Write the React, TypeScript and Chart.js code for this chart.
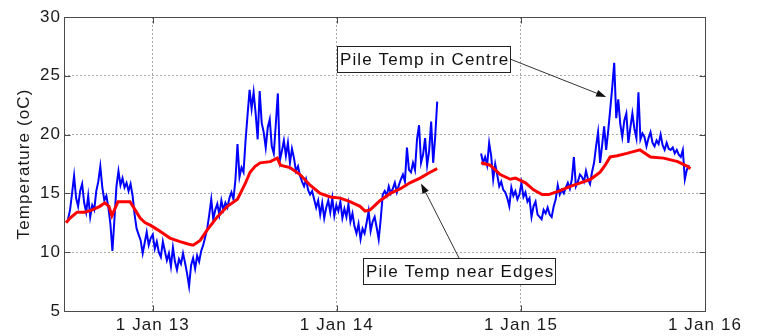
import { useEffect, useRef } from 'react';
import { Chart, registerables } from 'chart.js';

Chart.register(...registerables);

// Day numbers are counted from 1 Jan 2013.
// Centre sensor: one logged reading every SAMPLE_STEP days.
const SAMPLE_STEP = 4;

const centreStartA = -168;
const centreTempsA = [
  12.8, 13.6, 15.0, 16.5, 14.6, 13.9, 15.2, 15.8, 14.2, 13.4,
  14.8, 13.0, 14.0, 13.6, 15.2, 16.0, 17.3, 15.5, 14.4, 14.8,
  13.8, 12.4, 10.1, 12.8, 15.6, 16.9, 15.7, 16.3, 15.5, 15.9,
  15.2, 15.8, 14.8, 13.2, 12.0, 11.5, 11.0, 9.9, 10.8, 11.7,
  10.6, 11.2, 11.5, 10.3, 10.9, 10.0, 9.6, 10.9, 10.1, 9.3,
  9.9, 8.8, 10.4, 9.2, 8.5, 9.4, 9.0, 9.9, 9.1, 8.2,
  7.1, 8.9, 9.5, 8.6, 9.7, 9.2, 10.1, 10.6, 11.3, 12.0,
  13.2, 14.5, 12.8, 13.6, 14.1, 13.2, 14.4, 13.6, 14.2, 13.8,
  14.6, 15.1, 14.5, 16.2, 19.2, 16.4, 17.2, 16.8, 19.5, 21.7,
  23.8, 22.2, 23.6, 21.8, 19.6, 23.7, 21.0, 20.2, 18.9, 20.6,
  21.3, 19.0, 18.4, 20.9, 23.5, 17.8, 18.6, 19.5, 18.2, 19.3,
  17.6, 18.8, 18.0, 16.9, 17.3, 16.5, 16.0, 15.6, 16.2, 15.3,
  14.9, 15.2, 14.5, 13.8, 14.4, 13.2, 14.2, 12.9, 13.8, 14.4,
  13.4, 14.6, 13.1, 14.0, 13.5, 14.3, 12.9, 13.7, 13.0, 14.1,
  12.6, 13.3, 12.2, 11.6, 12.4, 11.1, 12.0, 11.6, 12.5, 13.5,
  11.8, 12.6, 13.0, 12.1, 11.1, 12.8, 14.9, 15.2, 14.8, 15.6,
  15.0, 15.4, 15.9, 15.1, 15.7, 16.2, 16.6, 16.0, 18.9, 17.0,
  16.8, 17.6, 17.0, 19.6, 20.8, 17.6, 18.3, 19.7, 17.4, 18.6,
  21.1, 17.6, 19.8, 22.8,
];

const centreStartB = 651;
const centreTempsB = [
  18.4, 17.6, 18.1, 17.4, 19.3, 18.2, 16.2, 17.5, 16.6, 15.6,
  16.0, 15.3, 15.1, 14.6, 13.9, 15.5, 14.8, 15.2, 14.5, 14.9,
  15.9, 14.7, 15.1, 14.3, 14.6, 13.0, 13.9, 14.3, 13.2, 13.0,
  12.8, 13.6, 13.3, 13.8, 13.2, 13.0, 13.9, 14.5, 15.7, 14.9,
  15.3, 15.0, 15.5, 15.9, 15.4, 16.2, 18.1, 15.6, 16.0, 16.6,
  16.4, 16.0, 16.9, 16.2, 15.8, 16.8, 17.6, 19.0, 20.2, 17.6,
  19.1, 20.7, 18.7, 20.3, 22.1, 24.0, 26.1, 21.4, 23.0, 20.9,
  19.8, 21.2, 21.8, 19.3, 20.6, 21.8, 20.5, 19.7, 23.6, 19.6,
  20.1, 19.8, 19.0, 19.7, 20.2, 19.3, 19.0, 19.5, 19.2, 20.0,
  19.1, 18.7, 19.3, 18.8, 18.7, 18.9, 18.4, 18.7, 18.3, 18.1,
  18.7, 16.2, 17.0, 17.4,
];

// Edge sensor (smoothed record)
const edgeDaysA = [
  -172, -164, -150, -135, -120, -105, -95, -87, -81, -75,
  -69, -55, -45, -35, -25, -15, -5, 10, 34, 54,
  70, 80, 94, 108, 128, 148, 168, 183, 193, 203,
  213, 233, 247, 253, 272, 292, 312, 332, 352, 372,
  391, 411, 421, 431, 441, 451, 471, 491, 510, 530,
  550, 564,
];
const edgeTempsA = [
  12.5, 12.9, 13.4, 13.4, 13.6, 13.9, 14.2, 13.9, 13.1, 13.7,
  14.3, 14.3, 14.3, 13.6, 12.9, 12.5, 12.3, 11.9, 11.2, 10.9,
  10.7, 10.6, 11.0, 11.9, 13.0, 13.9, 14.5, 15.8, 16.8, 17.3,
  17.6, 17.7, 18.0, 17.4, 17.2, 16.6, 15.7, 15.0, 14.7, 14.6,
  14.3, 13.9, 13.5, 13.6, 14.0, 14.4, 15.0, 15.4, 15.9, 16.3,
  16.8, 17.1,
];
const edgeDaysB = [
  651, 669, 679, 689, 709, 719, 729, 739, 755, 772,
  785, 805, 828, 848, 868, 887, 897, 907, 921, 940,
  966, 987, 1013, 1041, 1060, 1066,
];
const edgeTempsB = [
  17.6, 17.4, 17.0, 16.6, 16.2, 16.3, 16.1, 15.9, 15.3, 14.9,
  14.9, 15.2, 15.6, 15.9, 16.2, 16.8, 17.4, 18.1, 18.2, 18.4,
  18.7, 18.1, 18.0, 17.7, 17.3, 17.1,
];

const GAP_DAY = 607; // no readings between the two logging periods

const xMinDay = -176;
const xMaxDay = 1095;
const xTickDays = [0, 365, 730, 1095];
const xTickLabels = ['1 Jan 13', '1 Jan 14', '1 Jan 15', '1 Jan 16'];
const yTicks = [5, 10, 15, 20, 25, 30];

// Callout labels with arrows, positioned in data units
const notes = [
  { text: 'Pile Temp in Centre', day: 365, temp: 26.4, tipDay: 899, tipTemp: 23.2, from: 'right' },
  { text: 'Pile Temp near Edges', day: 417, temp: 8.4, tipDay: 532, tipTemp: 15.85, from: 'top' },
];

const FONT_FAMILY = '"Liberation Sans", Arial, Helvetica, sans-serif';
const FONT_SIZE = 17;
const LETTER_SPACING = '1.1px';

const centrePoints = [
  ...centreTempsA.map((t, i) => ({ x: centreStartA + i * SAMPLE_STEP, y: t })),
  { x: GAP_DAY, y: null },
  ...centreTempsB.map((t, i) => ({ x: centreStartB + i * SAMPLE_STEP, y: t })),
];
const edgePoints = [
  ...edgeDaysA.map((d, i) => ({ x: d, y: edgeTempsA[i] })),
  { x: GAP_DAY, y: null },
  ...edgeDaysB.map((d, i) => ({ x: d, y: edgeTempsB[i] })),
];

const spacingPlugin = {
  id: 'letterSpacing',
  beforeDraw(chart: any) {
    (chart.ctx as any).letterSpacing = LETTER_SPACING;
  },
};

// Axes box with inward tick marks
const framePlugin = {
  id: 'frame',
  afterDatasetsDraw(chart: any) {
    const { ctx, chartArea, scales } = chart;
    const { left, right, top, bottom } = chartArea;
    const L = Math.round(left) + 0.5;
    const R = Math.round(right) + 0.5;
    const T = Math.round(top) + 0.5;
    const B = Math.round(bottom) + 0.5;
    ctx.save();
    ctx.strokeStyle = '#4a4a4a';
    ctx.lineWidth = 1;
    ctx.setLineDash([]);
    ctx.strokeRect(L, T, R - L, B - T);
    const len = 6;
    ctx.beginPath();
    for (const d of xTickDays) {
      const px = Math.round(scales.x.getPixelForValue(d)) + 0.5;
      ctx.moveTo(px, B);
      ctx.lineTo(px, B - len);
      ctx.moveTo(px, T);
      ctx.lineTo(px, T + len);
    }
    for (const v of yTicks) {
      const py = Math.round(scales.y.getPixelForValue(v)) + 0.5;
      ctx.moveTo(L, py);
      ctx.lineTo(L + len, py);
      ctx.moveTo(R, py);
      ctx.lineTo(R - len, py);
    }
    ctx.stroke();
    ctx.restore();
  },
};

const notePlugin = {
  id: 'notes',
  afterDatasetsDraw(chart: any) {
    const { ctx, scales } = chart;
    ctx.save();
    ctx.font = `${FONT_SIZE}px ${FONT_FAMILY}`;
    (ctx as any).letterSpacing = LETTER_SPACING;
    for (const n of notes) {
      const w = Math.round(ctx.measureText(n.text).width + 4);
      const h = 26;
      const left = Math.round(scales.x.getPixelForValue(n.day));
      const cy = scales.y.getPixelForValue(n.temp);
      const top = Math.round(cy - h / 2);
      const sx = n.from === 'right' ? left + w : left + w / 2;
      const sy = n.from === 'right' ? top + h / 2 : top;
      const tx = scales.x.getPixelForValue(n.tipDay);
      const ty = scales.y.getPixelForValue(n.tipTemp);

      // arrow shaft
      const ang = Math.atan2(ty - sy, tx - sx);
      const headLen = 10;
      const headHalf = 3.5;
      const bx = tx - headLen * Math.cos(ang);
      const by = ty - headLen * Math.sin(ang);
      ctx.strokeStyle = '#333';
      ctx.lineWidth = 1;
      ctx.beginPath();
      ctx.moveTo(sx, sy);
      ctx.lineTo(bx, by);
      ctx.stroke();
      // arrow head
      ctx.fillStyle = '#111';
      ctx.beginPath();
      ctx.moveTo(tx, ty);
      ctx.lineTo(bx + headHalf * Math.sin(ang), by - headHalf * Math.cos(ang));
      ctx.lineTo(bx - headHalf * Math.sin(ang), by + headHalf * Math.cos(ang));
      ctx.closePath();
      ctx.fill();

      // label box
      ctx.fillStyle = '#fff';
      ctx.fillRect(left, top, w, h);
      ctx.strokeStyle = '#222';
      ctx.strokeRect(left + 0.5, top + 0.5, w, h);
      ctx.fillStyle = '#111';
      ctx.textAlign = 'left';
      ctx.textBaseline = 'middle';
      ctx.fillText(n.text, left + 3, top + h / 2 + 1);
    }
    ctx.restore();
  },
};

export default function App() {
  const canvasRef = useRef<HTMLCanvasElement | null>(null);

  useEffect(() => {
    document.body.style.margin = '0';
    const canvas = canvasRef.current;
    if (!canvas) return;
    const font = { family: FONT_FAMILY, size: FONT_SIZE };
    const chart = new Chart(canvas, {
      type: 'line',
      data: {
        datasets: [
          {
            label: 'Pile Temp near Edges',
            data: edgePoints as any,
            borderColor: '#ff0000',
            borderWidth: 3,
            pointRadius: 0,
            tension: 0,
            spanGaps: false,
            order: 0,
          },
          {
            label: 'Pile Temp in Centre',
            data: centrePoints as any,
            borderColor: '#0000ff',
            borderWidth: 2,
            pointRadius: 0,
            tension: 0,
            spanGaps: false,
            order: 1,
          },
        ],
      },
      options: {
        responsive: false,
        animation: false,
        events: [],
        layout: { padding: { top: 17, right: 53, bottom: 0, left: 0 } },
        plugins: {
          legend: { display: false },
          tooltip: { enabled: false },
        },
        scales: {
          x: {
            type: 'linear',
            min: xMinDay,
            max: xMaxDay,
            afterBuildTicks: (scale: any) => {
              scale.ticks = xTickDays.map((v) => ({ value: v }));
            },
            afterFit: (scale: any) => {
              scale.height = 25;
            },
            grid: { color: '#a8a8a8', lineWidth: 1, drawTicks: false },
            border: { display: false, dash: [2, 2] },
            ticks: {
              padding: 4,
              maxRotation: 0,
              autoSkip: false,
              color: '#1a1a1a',
              font,
              callback: (v: any) => {
                const i = xTickDays.indexOf(Number(v));
                return i >= 0 ? xTickLabels[i] : '';
              },
            },
          },
          y: {
            min: 5,
            max: 30,
            afterBuildTicks: (scale: any) => {
              scale.ticks = yTicks.map((v) => ({ value: v }));
            },
            afterFit: (scale: any) => {
              scale.width = 64;
            },
            grid: { color: '#a8a8a8', lineWidth: 1, drawTicks: false },
            border: { display: false, dash: [2, 2] },
            ticks: { padding: 3, color: '#1a1a1a', font },
            title: {
              display: true,
              text: 'Temperature (oC)',
              color: '#1a1a1a',
              font,
              padding: { top: 14, bottom: 0 },
            },
          },
        },
      },
      plugins: [spacingPlugin, framePlugin, notePlugin],
    });
    return () => chart.destroy();
  }, []);

  return (
    <canvas
      ref={canvasRef}
      width={758}
      height={336}
      style={{ display: 'block', width: 758, height: 336 }}
    />
  );
}
